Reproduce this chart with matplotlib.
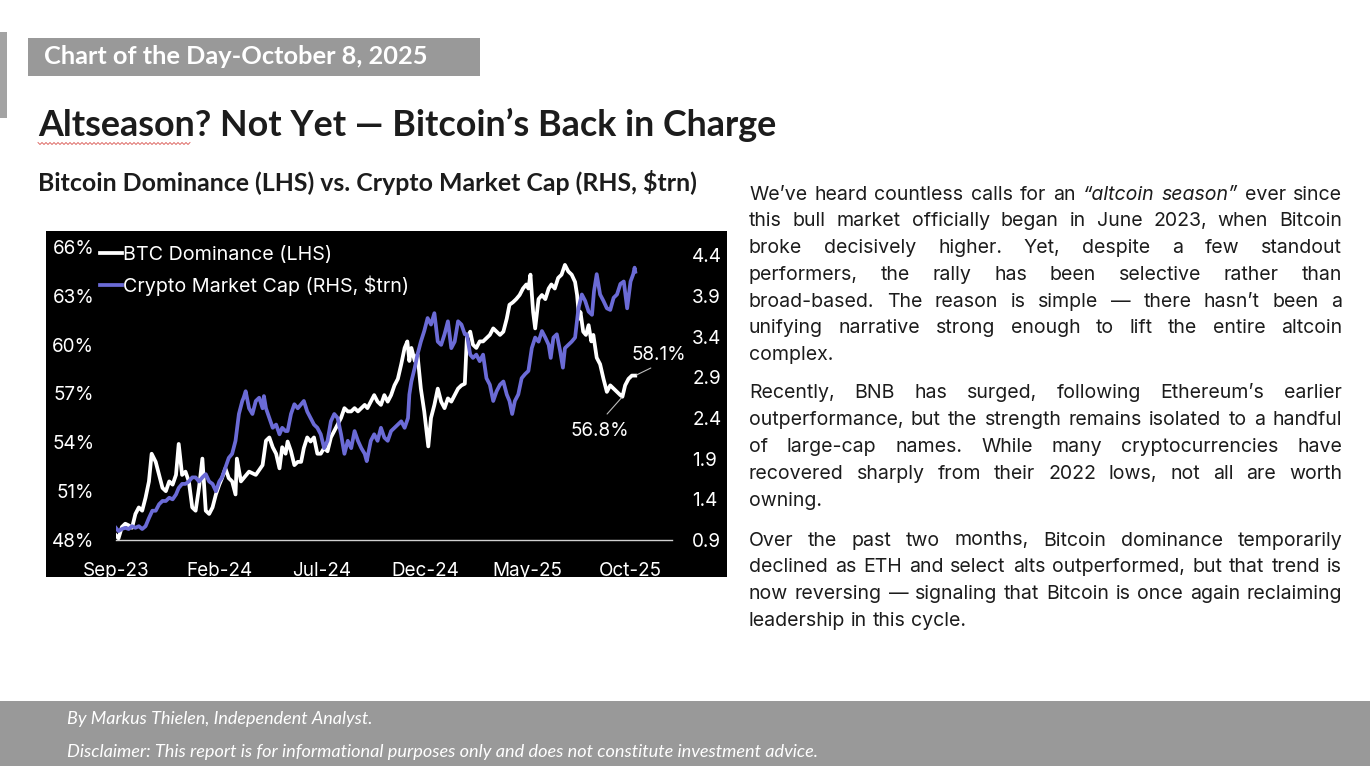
import matplotlib
matplotlib.use("Agg")
import matplotlib.pyplot as plt
from matplotlib.patches import Rectangle
from matplotlib.lines import Line2D
import numpy as np
import pandas as pd

# ------------------------------------------------------------------ data
btc_dates = [
    "2023-09-01", "2023-09-05", "2023-09-10", "2023-09-15", "2023-09-20", "2023-09-25", "2023-09-30",
    "2023-10-05", "2023-10-10", "2023-10-15", "2023-10-20", "2023-10-24", "2023-10-30",
    "2023-11-04", "2023-11-09", "2023-11-14", "2023-11-19", "2023-11-24", "2023-11-29",
    "2023-12-03", "2023-12-08", "2023-12-13", "2023-12-18", "2023-12-23", "2023-12-28",
    "2024-01-02", "2024-01-07", "2024-01-12", "2024-01-17", "2024-01-22", "2024-01-27",
    "2024-02-01", "2024-02-05", "2024-02-10", "2024-02-15", "2024-02-20", "2024-02-25", "2024-02-27",
    "2024-03-04", "2024-03-08", "2024-03-16", "2024-03-26",
    "2024-04-05", "2024-04-10", "2024-04-15", "2024-04-20", "2024-04-25", "2024-04-30",
    "2024-05-04", "2024-05-09", "2024-05-12", "2024-05-17", "2024-05-22", "2024-05-27",
    "2024-06-01", "2024-06-05", "2024-06-10", "2024-06-15", "2024-06-20", "2024-06-25", "2024-06-30",
    "2024-07-05", "2024-07-10", "2024-07-15", "2024-07-20", "2024-07-25", "2024-07-30",
    "2024-08-04", "2024-08-09", "2024-08-14", "2024-08-19", "2024-08-24", "2024-08-29",
    "2024-09-03", "2024-09-07", "2024-09-12", "2024-09-17", "2024-09-22", "2024-09-27",
    "2024-10-02", "2024-10-07", "2024-10-12", "2024-10-17", "2024-10-22", "2024-10-27",
    "2024-11-01", "2024-11-05", "2024-11-08", "2024-11-11", "2024-11-16", "2024-11-20", "2024-11-25", "2024-11-30",
    "2024-12-06", "2024-12-10", "2024-12-15", "2024-12-20", "2024-12-25", "2024-12-30",
    "2025-01-04", "2025-01-09", "2025-01-14", "2025-01-19", "2025-01-24", "2025-01-29",
    "2025-02-01", "2025-02-06", "2025-02-10", "2025-02-15", "2025-02-20", "2025-02-25",
    "2025-03-02", "2025-03-07", "2025-03-12", "2025-03-17", "2025-03-22", "2025-03-27",
    "2025-04-01", "2025-04-05", "2025-04-10", "2025-04-15", "2025-04-20", "2025-04-25", "2025-04-30",
    "2025-05-03", "2025-05-06", "2025-05-10", "2025-05-13", "2025-05-18", "2025-05-23", "2025-05-28",
    "2025-06-02", "2025-06-06", "2025-06-11", "2025-06-16", "2025-06-21", "2025-06-26",
    "2025-07-01", "2025-07-06", "2025-07-11", "2025-07-14", "2025-07-17", "2025-07-19", "2025-07-23", "2025-07-27", "2025-07-31",
    "2025-08-04", "2025-08-07", "2025-08-12", "2025-08-17", "2025-08-22", "2025-08-27",
    "2025-09-01", "2025-09-06", "2025-09-11", "2025-09-16", "2025-09-19", "2025-09-23", "2025-09-28",
    "2025-10-03", "2025-10-08",
]
btc_dominance = [
    48.3, 48.1, 48.8, 49.0, 48.9, 48.75, 49.6,
    50.0, 49.8, 50.6, 51.6, 53.3, 52.8,
    52.0, 51.2, 51.0, 51.6, 51.4, 52.0,
    53.9, 52.0, 52.2, 51.6, 50.0, 49.8,
    51.2, 53.0, 49.8, 49.6, 50.0, 50.8,
    51.4, 51.8, 52.4, 51.8, 51.6, 50.8, 53.0,
    51.6, 51.8, 52.2, 52.0,
    52.6, 54.1, 54.3, 53.7, 53.3, 52.4,
    53.7, 53.3, 54.05, 53.45, 52.6, 52.8,
    52.8, 53.65, 54.3, 54.05, 54.3, 53.3, 53.3,
    53.65, 53.45, 54.3, 54.7, 55.1, 55.5,
    56.1, 55.9, 55.9, 56.1, 55.9, 56.1,
    56.3, 56.1, 56.5, 56.9, 56.5, 56.3,
    56.9, 56.5, 56.9, 57.5, 57.9, 58.8,
    59.8, 60.2, 59.0, 59.8, 59.0, 59.4, 57.3, 55.9,
    53.75, 55.5, 56.3, 57.3, 56.5, 56.1,
    56.7, 56.5, 56.9, 57.3, 57.5, 57.6,
    60.4, 60.8, 60.0, 59.8, 60.2, 60.2,
    60.4, 60.6, 61.0, 60.8, 60.6, 60.8,
    61.6, 62.45, 62.6, 62.8, 63.05, 63.45, 63.7,
    63.45, 64.3, 62.0, 61.0, 62.8, 63.05, 62.8,
    63.45, 63.7, 63.45, 64.1, 64.3, 64.9,
    64.5, 64.3, 63.85, 63.05, 61.6, 62.0, 60.8, 60.6, 61.2,
    60.2, 60.6, 59.2, 58.8, 57.9, 57.1,
    57.5, 57.3, 57.1, 56.9, 56.8, 57.5, 57.9,
    58.1, 58.1,
]

mcap_dates = [
    "2023-09-01", "2023-09-05", "2023-09-10", "2023-09-15", "2023-09-20", "2023-09-25", "2023-09-30",
    "2023-10-05", "2023-10-10", "2023-10-15", "2023-10-20", "2023-10-25", "2023-10-30",
    "2023-11-04", "2023-11-09", "2023-11-14", "2023-11-19", "2023-11-24", "2023-11-29",
    "2023-12-03", "2023-12-08", "2023-12-13", "2023-12-18", "2023-12-23", "2023-12-28",
    "2024-01-02", "2024-01-07", "2024-01-12", "2024-01-17", "2024-01-22", "2024-01-27",
    "2024-02-01", "2024-02-05", "2024-02-10", "2024-02-15", "2024-02-20", "2024-02-25",
    "2024-03-01", "2024-03-06", "2024-03-08", "2024-03-11", "2024-03-16", "2024-03-21", "2024-03-26", "2024-03-31",
    "2024-04-05", "2024-04-07", "2024-04-10", "2024-04-15", "2024-04-20", "2024-04-25", "2024-04-30",
    "2024-05-04", "2024-05-09", "2024-05-12", "2024-05-17", "2024-05-22", "2024-05-27",
    "2024-06-01", "2024-06-05", "2024-06-10", "2024-06-15", "2024-06-20", "2024-06-25", "2024-06-30",
    "2024-07-05", "2024-07-10", "2024-07-15", "2024-07-20", "2024-07-25", "2024-07-30",
    "2024-08-04", "2024-08-09", "2024-08-14", "2024-08-19", "2024-08-24", "2024-08-29",
    "2024-09-03", "2024-09-06", "2024-09-12", "2024-09-17", "2024-09-22", "2024-09-27",
    "2024-10-02", "2024-10-07", "2024-10-12", "2024-10-17", "2024-10-22", "2024-10-27",
    "2024-11-01", "2024-11-06", "2024-11-08", "2024-11-11", "2024-11-16", "2024-11-20", "2024-11-25", "2024-11-30",
    "2024-12-05", "2024-12-10", "2024-12-15", "2024-12-20", "2024-12-25", "2024-12-30",
    "2025-01-04", "2025-01-09", "2025-01-14", "2025-01-19", "2025-01-24", "2025-01-29",
    "2025-02-01", "2025-02-06", "2025-02-10", "2025-02-15", "2025-02-20", "2025-02-25",
    "2025-03-02", "2025-03-07", "2025-03-12", "2025-03-17", "2025-03-22", "2025-03-27",
    "2025-04-01", "2025-04-05", "2025-04-09", "2025-04-13", "2025-04-18", "2025-04-23", "2025-04-28",
    "2025-05-03", "2025-05-08", "2025-05-13", "2025-05-18", "2025-05-23", "2025-05-28",
    "2025-06-02", "2025-06-05", "2025-06-09", "2025-06-14", "2025-06-19", "2025-06-23", "2025-06-26",
    "2025-07-01", "2025-07-06", "2025-07-11", "2025-07-16", "2025-07-21", "2025-07-26", "2025-07-31",
    "2025-08-05", "2025-08-08", "2025-08-12", "2025-08-17", "2025-08-22", "2025-08-27",
    "2025-09-01", "2025-09-06", "2025-09-11", "2025-09-16", "2025-09-21", "2025-09-26",
    "2025-10-01", "2025-10-05", "2025-10-07", "2025-10-08",
]
mcap_trn = [
    1.05, 1.01, 1.035, 1.05, 1.035, 1.07, 1.05,
    1.07, 1.035, 1.07, 1.17, 1.26, 1.26,
    1.34, 1.38, 1.38, 1.42, 1.40, 1.46,
    1.54, 1.59, 1.59, 1.62, 1.67, 1.67,
    1.62, 1.67, 1.71, 1.62, 1.59, 1.50,
    1.62, 1.67, 1.79, 1.91, 1.96, 2.12,
    2.45, 2.61, 2.65, 2.73, 2.52, 2.45, 2.61, 2.65,
    2.52, 2.67, 2.52, 2.40, 2.28, 2.32, 2.20,
    2.28, 2.24, 2.24, 2.45, 2.57, 2.52,
    2.57, 2.61, 2.48, 2.40, 2.32, 2.28, 2.20,
    2.03, 2.12, 2.36, 2.45, 2.40, 2.20,
    1.96, 2.12, 2.03, 2.24, 2.12, 2.03,
    1.96, 1.87, 2.12, 2.20, 2.12, 2.28,
    2.16, 2.12, 2.24, 2.28, 2.32, 2.36,
    2.28, 2.40, 2.69, 2.85, 3.02, 3.18, 3.34, 3.47,
    3.63, 3.55, 3.69, 3.34, 3.30, 3.43,
    3.59, 3.26, 3.34, 3.59, 3.55, 3.43,
    3.43, 3.18, 3.14, 3.18, 3.10, 3.18,
    2.89, 2.81, 2.61, 2.73, 2.81, 2.85,
    2.69, 2.61, 2.45, 2.61, 2.69, 2.89, 2.94,
    2.98, 3.26, 3.39, 3.34, 3.47, 3.39,
    3.30, 3.14, 3.39, 3.43, 3.22, 3.02, 3.26,
    3.30, 3.34, 3.39, 3.75, 3.92, 3.84, 3.71,
    3.67, 3.96, 4.17, 3.92, 3.84, 3.75,
    3.73, 3.88, 3.92, 4.05, 4.08, 3.75,
    4.08, 4.17, 4.25, 4.20,
]

left_ticks = [48, 51, 54, 57, 60, 63, 66]
right_ticks = [0.9, 1.4, 1.9, 2.4, 2.9, 3.4, 3.9, 4.4]
x_tick_dates = ["2023-09-01", "2024-02-01", "2024-07-01", "2024-12-01", "2025-05-01", "2025-10-01"]
x_tick_labels = ["Sep-23", "Feb-24", "Jul-24", "Dec-24", "May-25", "Oct-25"]

series_labels = ["BTC Dominance (LHS)", "Crypto Market Cap (RHS, $trn)"]

date_box = "Chart of the Day-October 8, 2025"
headline = "Altseason? Not Yet \u2014 Bitcoin\u2019s Back in Charge"
subtitle = "Bitcoin Dominance (LHS) vs. Crypto Market Cap (RHS, $trn)"
footer_1 = "By Markus Thielen, Independent Analyst."
footer_2 = ("Disclaimer: This report is for informational purposes only and does not "
            "constitute investment advice.")

paragraphs = [
    ["We\u2019ve heard countless calls for an \u201caltcoin season\u201d ever since",
     "this bull market officially began in June 2023, when Bitcoin",
     "broke decisively higher. Yet, despite a few standout",
     "performers, the rally has been selective rather than",
     "broad-based. The reason is simple \u2014 there hasn\u2019t been a",
     "unifying narrative strong enough to lift the entire altcoin",
     "complex."],
    ["Recently, BNB has surged, following Ethereum\u2019s earlier",
     "outperformance, but the strength remains isolated to a handful",
     "of large-cap names. While many cryptocurrencies have",
     "recovered sharply from their 2022 lows, not all are worth",
     "owning."],
    ["Over the past two months, Bitcoin dominance temporarily",
     "declined as ETH and select alts outperformed, but that trend is",
     "now reversing \u2014 signaling that Bitcoin is once again reclaiming",
     "leadership in this cycle."],
]
italic_words = {"\u201caltcoin", "season\u201d"}

# ------------------------------------------------------------------ figure
W, H = 1370, 766
fig = plt.figure(figsize=(W / 100, H / 100), dpi=100)
fig.patch.set_facecolor("white")
renderer = fig.canvas.get_renderer()

CHART_FONT = ["Inter", "DejaVu Sans"]
BODY_FONT = ["Inter", "DejaVu Sans"]
HEAD_FONT = ["Lato", "Liberation Sans", "DejaVu Sans"]
GREY = "#999999"
INK = "#1c1c1c"
BLUE = "#6B6BD6"


def X(px):
    return np.asarray(px) / W


def Y(py):
    return 1 - np.asarray(py) / H


def box(x0, y0, x1, y1, color, z=-1):
    fig.add_artist(Rectangle((X(x0), Y(y1)), (x1 - x0) / W, (y1 - y0) / H,
                             transform=fig.transFigure, facecolor=color,
                             edgecolor="none", zorder=z))


def fit_text(x, y, s, width, size=12, **kw):
    t = fig.text(X(x), Y(y), s, fontsize=size, **kw)
    w = t.get_window_extent(renderer).width
    t.set_fontsize(size * width / w)
    return t


# decorations / header
box(0, 32, 7, 118, "#a3a3a3")
box(28, 38, 480, 76, GREY)
fit_text(44, 64, date_box, 382, family=HEAD_FONT, weight="bold", color="white",
         va="baseline")
fit_text(38, 136, headline, 734, family=HEAD_FONT, weight="bold", color=INK,
         va="baseline")
sq_x = np.arange(38, 190.1, 2.0)
sq_y = 143.5 + np.where(np.arange(len(sq_x)) % 2 == 0, -1.0, 1.0)
fig.add_artist(Line2D(X(sq_x), Y(sq_y), transform=fig.transFigure,
                      color="#d9534f", lw=0.6))
fit_text(38, 191, subtitle, 656, family=HEAD_FONT, weight="bold", color=INK,
         va="baseline")

# footer
box(0, 701, W, H, GREY)
fit_text(67, 724, footer_1, 305, family=HEAD_FONT, style="italic", color="white",
         va="baseline")
fit_text(67, 757, footer_2, 752, family=HEAD_FONT, style="italic", color="white",
         va="baseline")

# ------------------------------------------------------------------ chart
box(46, 231, 727, 577, "black")

ax_left, ax_right, ax_top, ax_bot = 115.8, 672.0, 247.0, 540.0
px_per_day = 0.6764
start = pd.Timestamp("2023-09-01")
ax = fig.add_axes([X(ax_left), Y(ax_bot), (ax_right - ax_left) / W, (ax_bot - ax_top) / H])
ax.set_facecolor("none")
ax2 = ax.twinx()

bd = pd.to_datetime(btc_dates)
md = pd.to_datetime(mcap_dates)
(l1,) = ax.plot(bd, btc_dominance, color="white", lw=2.7, solid_joinstyle="round",
                label=series_labels[0])
(l2,) = ax2.plot(md, mcap_trn, color=BLUE, lw=2.7, solid_joinstyle="round",
                 label=series_labels[1])

ax.set_xlim(start, start + pd.Timedelta(days=(ax_right - ax_left) / px_per_day))
ax.set_ylim(48, 66)
ax2.set_ylim(0.9, 0.9 + (ax_bot - ax_top) / 81.3)

ax.set_xticks(pd.to_datetime(x_tick_dates))
ax.set_xticklabels(x_tick_labels)
ax.set_yticks(left_ticks)
ax.set_yticklabels([f"{v}%" for v in left_ticks])
ax2.set_yticks(right_ticks)
ax2.set_yticklabels([f"{v:.1f}" for v in right_ticks])

for a in (ax, ax2):
    for s in a.spines.values():
        s.set_visible(False)
ax.spines["bottom"].set_visible(True)
ax.spines["bottom"].set_color("#d0d0d0")
ax.spines["bottom"].set_linewidth(1.0)

ax.tick_params(axis="x", length=0, pad=16, labelcolor="white", labelsize=13.6)
ax.tick_params(axis="y", length=0, pad=15.5, labelcolor="white", labelsize=13.6)
ax2.tick_params(axis="y", length=0, pad=14.5, labelcolor="white", labelsize=13.6)
for lab in ax.get_xticklabels() + ax.get_yticklabels() + ax2.get_yticklabels():
    lab.set_family(CHART_FONT)

leg = ax2.legend(handles=[l1, l2], loc="upper left",
                 bbox_to_anchor=(X(100), Y(246)), bbox_transform=fig.transFigure,
                 frameon=False, borderpad=0, borderaxespad=0, handlelength=1.1,
                 handletextpad=0.08, labelspacing=0.6,
                 prop={"family": CHART_FONT, "size": 14.2})
for t in leg.get_texts():
    t.set_color("white")

# annotations on the BTC dominance line
bvals = np.asarray(btc_dominance)
last_i = len(bvals) - 1
recent = np.where(bd >= pd.Timestamp("2025-09-01"))[0]
low_i = recent[np.argmin(bvals[recent])]
ax.annotate(f"{bvals[last_i]:.1f}%", xy=(bd[last_i], bvals[last_i]),
            xytext=(659, H - 355), textcoords="figure pixels",
            ha="center", va="center", color="white", fontsize=13.6, family=CHART_FONT,
            annotation_clip=False,
            arrowprops=dict(arrowstyle="-", color="#bdbdbd", lw=0.8,
                            relpos=(0.5, 0.0), shrinkA=2, shrinkB=1))
ax.annotate(f"{bvals[low_i]:.1f}%", xy=(bd[low_i], bvals[low_i]),
            xytext=(600, H - 431), textcoords="figure pixels",
            ha="center", va="center", color="white", fontsize=13.6, family=CHART_FONT,
            annotation_clip=False,
            arrowprops=dict(arrowstyle="-", color="#bdbdbd", lw=0.8,
                            relpos=(0.5, 1.0), shrinkA=5, shrinkB=1))

# ------------------------------------------------------------------ body text
probe = fig.text(0, 0, paragraphs[2][-1], fontsize=13, family=BODY_FONT)
body_size = 13 * 217 / probe.get_window_extent(renderer).width
probe.remove()

body_left, body_right = 749, 1342
line_h = 26.8
para_baselines = [199.5, 398.5, 545.5]
sp = fig.text(0, 0, "a a", fontsize=body_size, family=BODY_FONT)
sp2 = fig.text(0, 0, "aa", fontsize=body_size, family=BODY_FONT)
space_w = sp.get_window_extent(renderer).width - sp2.get_window_extent(renderer).width
sp.remove()
sp2.remove()

for lines, y0 in zip(paragraphs, para_baselines):
    for i, line in enumerate(lines):
        yb = y0 + i * line_h
        words = line.split(" ")
        texts = []
        for wd in words:
            t = fig.text(0, Y(yb), wd, fontsize=body_size, family=BODY_FONT,
                         style="italic" if wd in italic_words else "normal",
                         color=INK, ha="left", va="baseline")
            texts.append(t)
        widths = [t.get_window_extent(renderer).width for t in texts]
        if i == len(lines) - 1 or len(words) == 1:
            gap = space_w
        else:
            gap = (body_right - body_left - sum(widths)) / (len(words) - 1)
        xx = body_left
        for t, wv in zip(texts, widths):
            t.set_x(X(xx))
            xx += wv + gap

fig.savefig("out.png", dpi=100, facecolor="white")
